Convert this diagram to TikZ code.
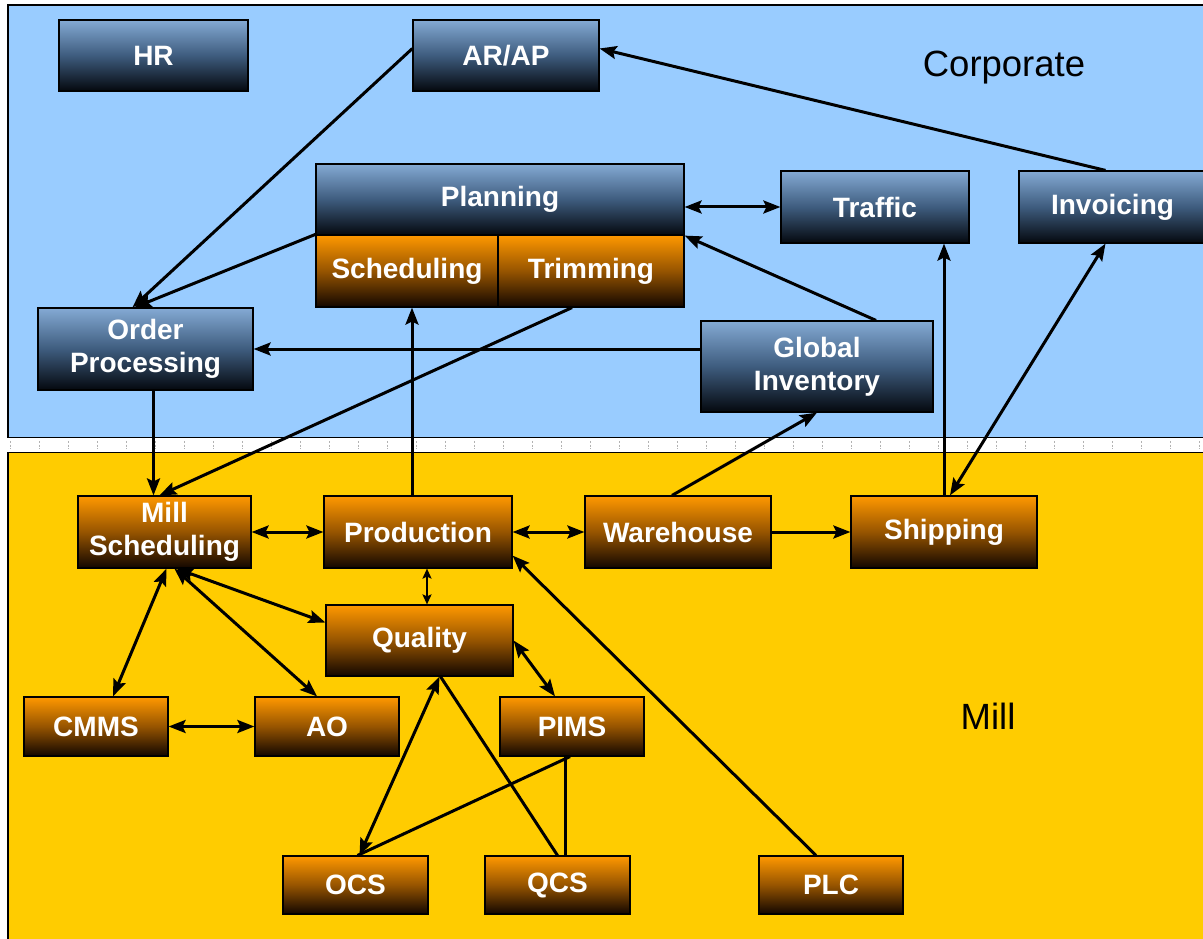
\documentclass[tikz,border=0pt]{standalone}
\usepackage{fontspec}
\setmainfont{Liberation Sans}
\usetikzlibrary{arrows.meta,calc}
\definecolor{corpbg}{RGB}{153,204,255}
\definecolor{millbg}{RGB}{255,204,0}
\definecolor{btop}{RGB}{132,170,212}
\definecolor{bmid}{RGB}{62,92,126}
\definecolor{bbot}{RGB}{4,8,14}
\definecolor{otop}{RGB}{255,152,0}
\definecolor{omid}{RGB}{150,84,0}
\definecolor{obot}{RGB}{18,6,0}
\tikzset{
  boxbase/.style={draw=black, line width=1.2pt, inner sep=0pt, text=white, align=center,
    font=\fontsize{28}{33}\selectfont\bfseries},
  bluebox/.style={boxbase, top color=btop, bottom color=bbot, middle color=bmid},
  orangebox/.style={boxbase, top color=otop, bottom color=obot, middle color=omid},
  tip/.style={},
  arr/.style={line width=3pt, -{Stealth[length=17pt,width=13pt,inset=3pt]}},
  darr/.style={line width=3pt, {Stealth[length=17pt,width=13pt,inset=3pt]}-{Stealth[length=17pt,width=13pt,inset=3pt]}},
  sdarr/.style={line width=2.2pt, {Stealth[length=10pt,width=9pt,inset=2pt]}-{Stealth[length=10pt,width=9pt,inset=2pt]}},
  plain/.style={line width=3pt},
  zonelabel/.style={font=\fontsize{36.5}{40}\selectfont, text=black, inner sep=0pt}
}
\newcommand{\bx}[7]{%
  \node[#1, minimum width={(#5)-(#3)}, minimum height={(#6)-(#4)}] (#2) at ({((#3)+(#5))/2},{((#4)+(#6))/2}) {#7};}
\begin{document}
\begin{tikzpicture}[x=1pt,y=-1pt]
\useasboundingbox (0,0) rectangle (1203,939);
\clip (0,0) rectangle (1203,939);
\fill[white] (0,0) rectangle (1203,939);
% zones
\fill[corpbg] (8,5) rectangle (1215,437.5);
\draw[line width=1.4pt] (1215,5) -- (8,5) -- (8,437.5) -- (1215,437.5);
\fill[millbg] (8,452.5) rectangle (1215,950);
\draw[line width=1.4pt] (1215,452.5) -- (8,452.5) -- (8,950);
\foreach \i in {0,...,41} {
  \draw[gray!60, line width=0.8pt, dash pattern=on 2pt off 1.5pt] ({10+29*\i},441) -- ({10+29*\i},449);
}
\node[zonelabel] (corp) at (1004,68) {Corporate};
\node[zonelabel] (mill) at (988,716) {Mill};
% nodes
\bx{bluebox}{hr}{59}{20}{248}{91}{HR}
\bx{bluebox}{arap}{413}{20}{599}{91}{AR/AP}
\bx{bluebox}{plan}{316}{164}{684}{235}{Planning}
\bx{orangebox}{sched}{316}{235}{498}{307}{Scheduling}
\bx{orangebox}{trim}{498}{235}{684}{307}{Trimming}
\bx{bluebox}{traffic}{781}{171}{969}{243}{Traffic}
\bx{bluebox}{invoice}{1019}{171}{1206}{243}{Invoicing}
\bx{bluebox}{order}{38}{308}{253}{390}{Order\\Processing}
\bx{bluebox}{global}{701}{321}{933}{412}{Global\\Inventory}
\bx{orangebox}{mills}{78}{496}{251}{568}{Mill\\Scheduling}
\bx{orangebox}{prod}{324}{496}{512}{568}{Production}
\bx{orangebox}{ware}{585}{496}{771}{568}{Warehouse}
\bx{orangebox}{ship}{851}{496}{1037}{568}{Shipping}
\bx{orangebox}{qual}{326}{605}{513}{676}{Quality}
\bx{orangebox}{cmms}{24}{697}{168}{756}{CMMS}
\bx{orangebox}{ao}{255}{697}{399}{756}{AO}
\bx{orangebox}{pims}{500}{697}{644}{756}{PIMS}
\bx{orangebox}{ocs}{283}{856}{428}{914}{OCS}
\bx{orangebox}{qcs}{485}{856}{630}{914}{QCS}
\bx{orangebox}{plc}{759}{856}{903}{914}{PLC}
% connectors
\draw[arr] ([yshift=7pt]arap.west) -- ([xshift=-13pt]order.north);
\draw[arr] (sched.north west) -- ([xshift=-11pt]order.north);
\draw[arr] ([xshift=-7pt]invoice.north) -- ([yshift=7pt]arap.east);
\draw[darr] (traffic.west -| plan.east) -- (traffic.west);
\draw[arr] ([xshift=59pt]global.north) -- (plan.south east);
\draw[arr] (order.east -| global.west) -- (order.east);
\draw[arr] ([xshift=8pt]order.south) -- ([xshift=8pt]order.south |- mills.north);
\draw[arr] ([xshift=-19pt]trim.south) -- ([xshift=-5pt]mills.north);
\draw[arr] ([xshift=-6pt]prod.north) -- ([xshift=-6pt]prod.north |- sched.south);
\draw[arr] ([xshift=-6pt]ware.north) -- (global.south);
\draw[arr] (ship.north) -- (ship.north |- traffic.south);
\draw[darr] ([xshift=-7pt]invoice.south) -- ([xshift=6pt]ship.north);
\draw[darr] (mills.east) -- (prod.west);
\draw[darr] (prod.east) -- (ware.west);
\draw[arr] (ware.east) -- (ship.west);
\draw[sdarr] ([xshift=9pt]prod.south) -- ([xshift=9pt]prod.south |- qual.north);
\draw[darr] ([xshift=12pt]mills.south) -- ([yshift=18pt]qual.west);
\draw[darr] ([xshift=2pt]mills.south) -- ([xshift=17pt]cmms.north);
\draw[darr] ([xshift=10pt]mills.south) -- ([xshift=-10pt]ao.north);
\draw[darr] (cmms.east) -- (ao.west);
\draw[darr] (qual.east) -- ([xshift=-17pt]pims.north);
\draw[darr] ([xshift=20pt]qual.south) -- ([xshift=4pt]ocs.north);
\draw[plain] ([xshift=21pt]qual.south) -- (qcs.north);
\draw[plain] ([xshift=-2pt]pims.south) -- ([xshift=2pt]ocs.north);
\draw[plain] ([xshift=-7pt]pims.south) -- ([xshift=-7pt]pims.south |- qcs.north);
\draw[arr] ([xshift=-15pt]plc.north) -- ([yshift=13pt]prod.south east);
\end{tikzpicture}
\end{document}
